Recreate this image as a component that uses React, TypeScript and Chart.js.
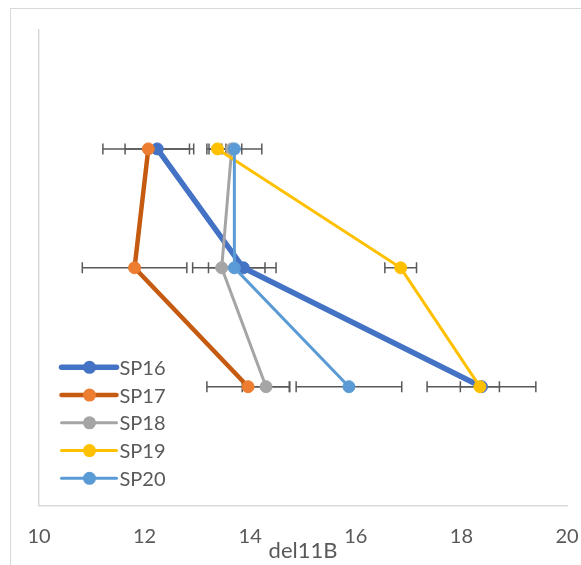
import React, { useEffect, useRef } from "react";
import { Chart, registerables } from "chart.js";

Chart.register(...registerables);

const seriesNames = ["SP16", "SP17", "SP18", "SP19", "SP20"];
const levels = [3, 2, 1];
const sp16X = [12.24, 13.87, 18.38];
const sp16Err = [0.61, 0.41, 1.03];
const sp17X = [12.07, 11.81, 13.96];
const sp17Err = [0.86, 0.99, 0.78];
const sp18X = [13.65, 13.46, 14.3];
const sp18Err = [0.19, 0.25, 0.45];
const sp19X = [13.38, 16.85, 18.35];
const sp19Err = [0.16, 0.3, 0.37];
const sp20X = [13.7, 13.7, 15.87];
const sp20Err = [0.52, 0.79, 1.0];
const xTicks = [10, 12, 14, 16, 18, 20];

const seriesX = [sp16X, sp17X, sp18X, sp19X, sp20X];
const seriesErr = [sp16Err, sp17Err, sp18Err, sp19Err, sp20Err];
const lineColors = ["#4472C4", "#C55A11", "#A5A5A5", "#FFC000", "#5B9BD5"];
const markerColors = ["#4472C4", "#ED7D31", "#A5A5A5", "#FFC000", "#5B9BD5"];
const lineWidths = [5.5, 4.5, 3, 3, 3];

const TEXT = "#595959";
const FONT = "Lato";

const borderPlugin = {
  id: "outerBorder",
  beforeDraw(chart: any) {
    const ctx = chart.ctx;
    ctx.save();
    ctx.strokeStyle = "#D9D9D9";
    ctx.lineWidth = 1;
    ctx.strokeRect(10.5, 8.5, 800, 800);
    ctx.restore();
  },
};

const errorBarPlugin = {
  id: "errorBars",
  beforeDatasetsDraw(chart: any) {
    const ctx = chart.ctx;
    const xs = chart.scales.x;
    const ys = chart.scales.y;
    ctx.save();
    ctx.strokeStyle = "#595959";
    ctx.lineWidth = 1.5;
    seriesX.forEach((arr, si) => {
      arr.forEach((v, i) => {
        const e = seriesErr[si][i];
        const py = ys.getPixelForValue(levels[i]);
        const x1 = xs.getPixelForValue(v - e);
        const x2 = xs.getPixelForValue(v + e);
        ctx.beginPath();
        ctx.moveTo(x1, py);
        ctx.lineTo(x2, py);
        ctx.moveTo(x1, py - 5.5);
        ctx.lineTo(x1, py + 5.5);
        ctx.moveTo(x2, py - 5.5);
        ctx.lineTo(x2, py + 5.5);
        ctx.stroke();
      });
    });
    ctx.restore();
  },
};

const legendPlugin = {
  id: "insideLegend",
  afterDraw(chart: any) {
    const ctx = chart.ctx;
    const area = chart.chartArea;
    const x0 = area.left + 22.5;
    const y0 = area.bottom - 138.3;
    ctx.save();
    seriesNames.forEach((name, i) => {
      const y = y0 + i * 27.75;
      ctx.strokeStyle = lineColors[i];
      ctx.lineWidth = lineWidths[i];
      ctx.lineCap = "round";
      ctx.beginPath();
      ctx.moveTo(x0, y);
      ctx.lineTo(x0 + 55, y);
      ctx.stroke();
      ctx.fillStyle = markerColors[i];
      ctx.beginPath();
      ctx.arc(x0 + 28, y, 6.5, 0, Math.PI * 2);
      ctx.fill();
      ctx.fillStyle = TEXT;
      ctx.font = `20px ${FONT}`;
      ctx.textBaseline = "middle";
      ctx.textAlign = "left";
      ctx.fillText(name, x0 + 58, y + 1);
    });
    ctx.restore();
  },
};

export default function App() {
  const ref = useRef<HTMLCanvasElement | null>(null);
  useEffect(() => {
    if (!ref.current) return;
    const datasets = seriesNames.map((name, si) => ({
      label: name,
      data: seriesX[si].map((v, i) => ({ x: v, y: levels[i] })),
      showLine: true,
      borderColor: lineColors[si],
      borderWidth: lineWidths[si],
      backgroundColor: markerColors[si],
      pointBackgroundColor: markerColors[si],
      pointBorderColor: markerColors[si],
      pointBorderWidth: 1,
      pointRadius: 6,
      pointHoverRadius: 6,
      order: 10 - si,
    }));
    const chart = new Chart(ref.current, {
      type: "scatter",
      data: { datasets },
      options: {
        animation: false,
        responsive: false,
        events: [],
        layout: { padding: { left: 39, top: 30, right: 14, bottom: 0 } },
        plugins: { legend: { display: false }, tooltip: { enabled: false } },
        scales: {
          x: {
            type: "linear",
            min: 10,
            max: 20,
            afterBuildTicks: (scale: any) => {
              scale.ticks = xTicks.map((v) => ({ value: v }));
            },
            afterFit: (scale: any) => {
              scale.paddingLeft = 0;
              scale.paddingRight = 0;
            },
            ticks: { color: TEXT, font: { family: FONT, size: 20 }, padding: 19 },
            grid: { display: false, drawTicks: false },
            border: { display: true, color: "#D9D9D9", width: 1.5 },
            title: {
              display: true,
              text: "del11B",
              color: TEXT,
              font: { family: FONT, size: 22 },
              padding: { top: -30, bottom: 1 },
            },
          },
          y: {
            type: "linear",
            min: 0,
            max: 4,
            ticks: { display: false },
            grid: { display: false, drawTicks: false },
            border: { display: true, color: "#D9D9D9", width: 1.5 },
          },
        },
      },
      plugins: [borderPlugin, errorBarPlugin, legendPlugin],
    } as any);
    return () => chart.destroy();
  }, []);
  return (
    <div style={{ position: "fixed", left: 0, top: 0, width: 581, height: 565, background: "#fff" }}>
      <canvas ref={ref} width={581} height={565} style={{ display: "block" }} />
    </div>
  );
}
